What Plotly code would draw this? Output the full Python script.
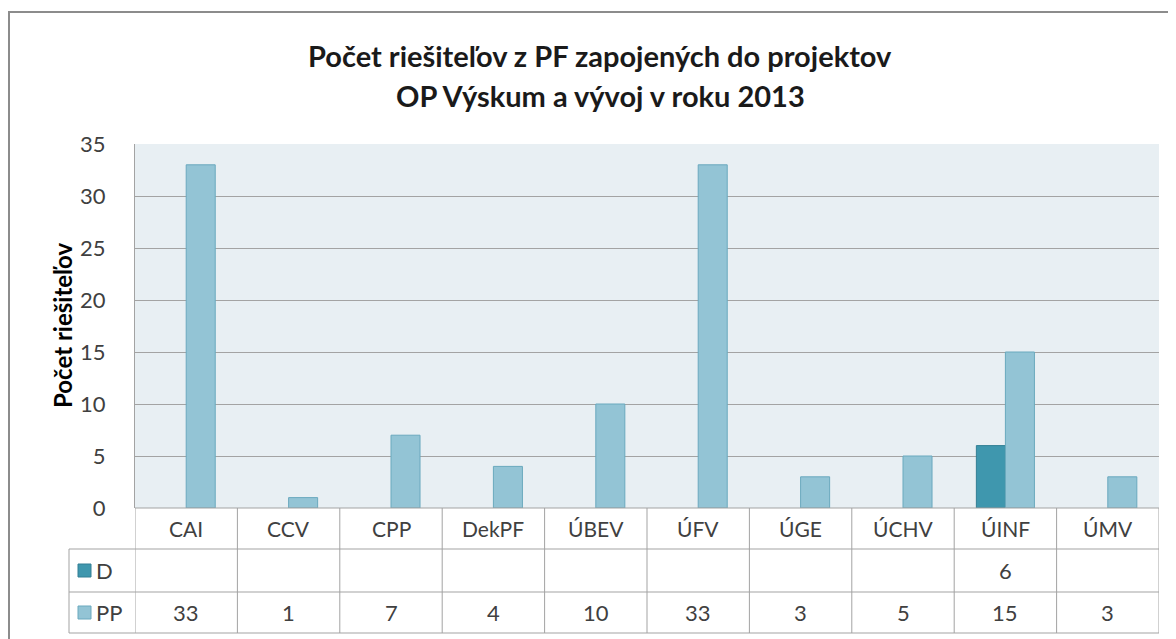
import plotly.graph_objects as go

categories = ["CAI", "CCV", "CPP", "DekPF", "ÚBEV", "ÚFV", "ÚGE", "ÚCHV", "ÚINF", "ÚMV"]
series_names = ["D", "PP"]
d_values = [None, None, None, None, None, None, None, None, 6, None]
pp_values = [33, 1, 7, 4, 10, 33, 3, 5, 15, 3]
y_ticks = [0, 5, 10, 15, 20, 25, 30, 35]
title_lines = ["Počet riešiteľov z PF zapojených do projektov", "OP Výskum a vývoj v roku 2013"]
y_title = "Počet riešiteľov"

OFF = 8  # page body margin offset
W, H = 1176 - OFF, 639 - OFF
ML = 135 - OFF
MT = 144 - OFF
MB = H - (508 - OFF)
MR = W - (1159 - OFF)
PW, PH = W - ML - MR, H - MT - MB

def px(xp):
    return (xp - OFF - ML) / PW

def py(yp):
    return (H - MB - (yp - OFF)) / PH

FONT = "Lato"
C_D = "#3f97ae"
C_PP = "#93c4d5"
GRID = "#a3a3a3"
TXT = "#404040"

fig = go.Figure()
fig.add_trace(go.Bar(x=categories, y=d_values, name=series_names[0],
                     marker=dict(color=C_D, line=dict(color="#327f94", width=1))))
fig.add_trace(go.Bar(x=categories, y=pp_values, name=series_names[1],
                     marker=dict(color=C_PP, line=dict(color="#6aa9be", width=1))))

shapes = []
annotations = []

# outer chart frame
shapes.append(dict(type="rect", xref="paper", yref="paper", x0=px(9), x1=px(1200),
                   y0=py(700), y1=py(12), line=dict(color="#8c8c8c", width=2), layer="below"))

# table horizontal lines
shapes.append(dict(type="line", xref="paper", yref="paper", x0=0, x1=1, y0=py(508), y1=py(508),
                   line=dict(color=GRID, width=1)))
for yp in [549, 592, 633]:
    shapes.append(dict(type="line", xref="paper", yref="paper", x0=px(69), x1=1, y0=py(yp), y1=py(yp),
                       line=dict(color=GRID, width=1)))
# table vertical lines
shapes.append(dict(type="line", xref="paper", yref="paper", x0=px(69), x1=px(69), y0=py(549), y1=py(633),
                   line=dict(color=GRID, width=1)))
for i in range(len(categories) + 1):
    shapes.append(dict(type="line", xref="x", yref="paper", x0=i - 0.5, x1=i - 0.5,
                       y0=py(508), y1=py(633), line=dict(color=GRID, width=1)))

# legend keys in table
for yc, col, lc, name in [(570, C_D, "#327f94", series_names[0]), (612, C_PP, "#6aa9be", series_names[1])]:
    shapes.append(dict(type="rect", xref="paper", yref="paper", x0=px(78), x1=px(91),
                       y0=py(yc + 7), y1=py(yc - 6), fillcolor=col, line=dict(color=lc, width=1)))
    annotations.append(dict(xref="paper", yref="paper", x=px(94), y=py(yc), text=name,
                            showarrow=False, xanchor="left", yanchor="middle",
                            font=dict(family=FONT, size=22, color=TXT)))

# table text
for i, c in enumerate(categories):
    annotations.append(dict(xref="x", yref="paper", x=i, y=py(528), text=c, showarrow=False,
                            yanchor="middle", font=dict(family=FONT, size=21, color=TXT)))
    if d_values[i] is not None:
        annotations.append(dict(xref="x", yref="paper", x=i, y=py(570), text=str(d_values[i]),
                                showarrow=False, yanchor="middle", font=dict(family=FONT, size=22, color=TXT)))
    if pp_values[i] is not None:
        annotations.append(dict(xref="x", yref="paper", x=i, y=py(612), text=str(pp_values[i]),
                                showarrow=False, yanchor="middle", font=dict(family=FONT, size=22, color=TXT)))

# title
for yp, t in zip([55, 95], title_lines):
    annotations.append(dict(xref="paper", yref="paper", x=px(600), y=py(yp), text="<b>" + t + "</b>",
                            showarrow=False, xanchor="center", yanchor="middle",
                            font=dict(family=FONT, size=29, color="#1a1a1a")))

# y-axis title
annotations.append(dict(xref="paper", yref="paper", x=px(62), y=py(326), text="<b>" + y_title + "</b>",
                        textangle=-90, showarrow=False, xanchor="center", yanchor="middle",
                        font=dict(family=FONT, size=24, color="#000000")))

fig.update_layout(
    width=W, height=H,
    margin=dict(l=ML, r=MR, t=MT, b=MB, pad=0),
    paper_bgcolor="white",
    plot_bgcolor="#e8eff3",
    barmode="group",
    bargap=0.433,
    bargroupgap=0,
    showlegend=False,
    shapes=shapes,
    annotations=annotations,
    xaxis=dict(type="category", range=[-0.5, len(categories) - 0.5], showticklabels=False,
               showgrid=False, zeroline=False, showline=False, ticks=""),
    yaxis=dict(range=[0, 35], tickvals=y_ticks, showgrid=True, gridcolor=GRID, gridwidth=1,
               zeroline=False, showline=True, linecolor=GRID, linewidth=1, ticks="",
               ticklabelstandoff=24,
               tickfont=dict(family=FONT, size=22, color=TXT)),
    font=dict(family=FONT),
)

fig.write_html("out.html")
